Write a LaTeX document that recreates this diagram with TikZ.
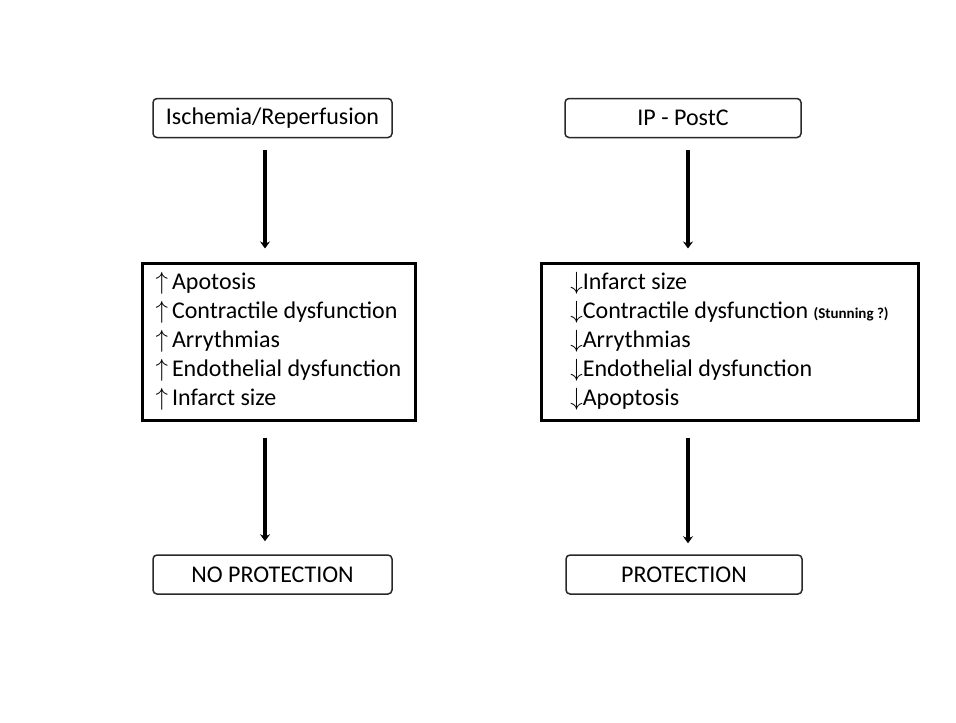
\documentclass[tikz,border=0pt]{standalone}
\usepackage{fontspec}
\setmainfont{Carlito}
\usepackage{tikz}
\usetikzlibrary{arrows.meta,positioning,calc}
\definecolor{boxline}{RGB}{40, 40, 40}

\begin{document}
\begin{tikzpicture}[x=1pt,y=-1pt,
    endbox/.style={draw=boxline,line width=1.5pt,rounded corners=4pt,minimum height=39pt,
        font=\fontsize{24}{28}\selectfont,inner sep=0pt},
    listbox/.style={draw=black,line width=3pt,minimum height=157pt,align=left,
        font=\fontsize{24}{29}\selectfont,inner sep=0pt},
    flow/.style={line width=4pt,-{Stealth[length=7pt,width=10pt]}}]
    \useasboundingbox (0,0) rectangle (956,723);
    \node[endbox,minimum width=239pt] (isch) at (272.5,118) {Ischemia/Reperfusion};
    \node[endbox,minimum width=236pt] (postc) at (683,118) {IP - PostC};
    \node[listbox,minimum width=273pt] (harm) at (278.5,341.5)
        {$\uparrow$\,Apotosis\\ $\uparrow$\,Contractile dysfunction\\ $\uparrow$\,Arrythmias\\
         $\uparrow$\,Endothelial dysfunction\\ $\uparrow$\,Infarct size};
    \node[listbox,minimum width=377pt] (benefit) at (729.5,341.5)
        {$\downarrow$Infarct size\\ $\downarrow$Contractile dysfunction {\bfseries\fontsize{15}{17}\selectfont(Stunning ?)}\\
         $\downarrow$Arrythmias\\ $\downarrow$Endothelial dysfunction\\ $\downarrow$Apoptosis};
    \node[endbox,minimum width=239pt] (noprot) at (272.5,574.5) {NO PROTECTION};
    \node[endbox,minimum width=236pt] (prot) at (684,574.5) {PROTECTION};
    \draw[flow] ([xshift=-7.5pt,yshift=-12pt]isch.south) -- ([xshift=-13.5pt,yshift=13pt]harm.north);
    \draw[flow] ([xshift=5pt,yshift=-12pt]postc.south) -- ([xshift=-41.5pt,yshift=13pt]benefit.north);
    \draw[flow] ([xshift=-13.5pt,yshift=-16pt]harm.south) -- ([xshift=-7.5pt,yshift=13pt]noprot.north);
    \draw[flow] ([xshift=-41.5pt,yshift=-16pt]benefit.south) -- ([xshift=4pt,yshift=11pt]prot.north);
\end{tikzpicture}
\end{document}
